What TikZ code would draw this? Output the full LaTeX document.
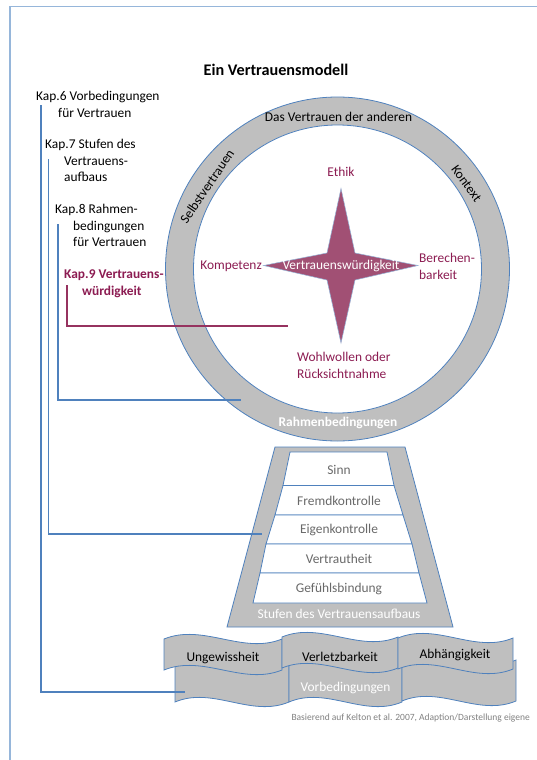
\documentclass[tikz,border=0pt]{standalone}
\usepackage{fontspec}
\setmainfont{Carlito}
\definecolor{ringgray}{RGB}{191,191,191}
\definecolor{bordblue}{RGB}{79,129,189}
\definecolor{framblue}{RGB}{150,182,218}
\definecolor{plum}{RGB}{140,28,82}
\definecolor{plumline}{RGB}{150,50,95}
\definecolor{starfill}{RGB}{161,80,116}
\definecolor{steptext}{RGB}{105,105,105}
\definecolor{captgray}{RGB}{128,128,128}
\tikzset{
  txt/.style={font=\fontsize{13.4}{16}\selectfont, inner sep=0pt},
  ptxt/.style={txt, text=plum},
  shapeline/.style={draw=bordblue, line width=0.8pt},
  grayshape/.style={shapeline, fill=ringgray},
  stepbox/.style={shapeline, fill=white},
  conn/.style={draw=bordblue, line width=1.3pt},
  pconn/.style={draw=plumline, line width=1.3pt},
}
\newcommand\wavebox[4]{%
  \pgfmathsetmacro\wvA{#1+(#2-#1)/3}%
  \pgfmathsetmacro\wvB{#1+2*(#2-#1)/3}%
  \path[grayshape] (#1,#3) .. controls (\wvA,#3-16) and (\wvB,#3+16) .. (#2,#3)
    -- (#2,#4) .. controls (\wvB,#4+16) and (\wvA,#4-16) .. (#1,#4) -- cycle;%
}
\begin{document}
\begin{tikzpicture}[x=1pt,y=-1pt]
\useasboundingbox (0,0) rectangle (537,760);
% frame
\draw[framblue, line width=1.5pt] (10,760) -- (10,6.5) -- (537,6.5);
% title
\node[font=\fontsize{16.2}{19}\selectfont\bfseries, inner sep=0pt] (title) at (276,70) {Ein Vertrauensmodell};

% ring
\coordinate (C) at (337.5,269);
\fill[ringgray, even odd rule] (C) circle[radius=172pt] (C) circle[radius=144pt];
\draw[shapeline] (C) circle[radius=172pt];
\draw[shapeline, fill=white] (C) circle[radius=144pt];
\node[txt, anchor=base] (anderen) at (338.5,121.5) {Das Vertrauen der anderen};
\node[txt, rotate=56] (selbst) at (207,186.5) {Selbstvertrauen};
\node[txt, rotate=-54] (kontext) at (466.5,183.5) {Kontext};
\node[txt, anchor=base, text=white, font=\fontsize{13.4}{16}\selectfont\bfseries] (rahmen) at (338,426.5) {Rahmenbedingungen};

% star
\path[fill=starfill, draw=bordblue!60, line width=0.5pt]
  (341,188.5) -- (355,253) -- (418,265.5) -- (355,280) -- (341,343) -- (327,280) -- (263.5,265.5) -- (327,253) -- cycle;
\node[txt, text=white] (vw) at (341,265.5) {Vertrauenswürdigkeit};
\node[ptxt, anchor=base] (ethik) at (341,176.5) {Ethik};
\node[ptxt, anchor=base east] (kompetenz) at (262,269.5) {Kompetenz};
\node[ptxt, anchor=base west] (berechen1) at (419,262.5) {Berechen-};
\node[ptxt, anchor=base west] (berechen2) at (419,279.5) {barkeit};
\node[ptxt, anchor=base west] (wohl1) at (297,361.5) {Wohlwollen oder};
\node[ptxt, anchor=base west] (wohl2) at (297,378) {Rücksichtnahme};

% trapezoid
\path[grayshape] (275,447) -- (405,447) -- (453,627) -- (227,627) -- cycle;
\path[stepbox] (290,452) -- (387,452) -- (394,485.5) -- (283,485.5) -- cycle;
\path[stepbox] (283,485.5) -- (394,485.5) -- (403,515) -- (275,515) -- cycle;
\path[stepbox] (275,515) -- (403,515) -- (412,544) -- (266,544) -- cycle;
\path[stepbox] (266,544) -- (412,544) -- (419,573) -- (260,573) -- cycle;
\path[stepbox] (260,573) -- (419,573) -- (427,603) -- (253,603) -- cycle;
\node[txt, text=steptext] (sinn) at (339,469.5) {Sinn};
\node[txt, text=steptext] (fremd) at (339,501) {Fremdkontrolle};
\node[txt, text=steptext] (eigen) at (339,530) {Eigenkontrolle};
\node[txt, text=steptext] (vertraut) at (339,559) {Vertrautheit};
\node[txt, text=steptext] (gefuehl) at (339,588.5) {Gefühlsbindung};
\node[txt, anchor=base, text=white] (stufen) at (339,618.5) {Stufen des Vertrauensaufbaus};

% banners (bottom row first)
\wavebox{175}{289}{660}{702}
\wavebox{289}{402}{660}{702}
\wavebox{402}{516}{660}{701}
\wavebox{164}{282}{639}{670}
\wavebox{282}{398}{637}{668}
\wavebox{398}{513}{638}{669}
\node[txt] (ungew) at (223,658) {Ungewissheit};
\node[txt] (verletz) at (340,657) {Verletzbarkeit};
\node[txt] (abh) at (455,655) {Abhängigkeit};
\node[txt, text=white] (vorbed) at (345.5,688) {Vorbedingungen};
\node[font=\fontsize{9.5}{11}\selectfont, text=captgray, inner sep=0pt, anchor=base east] (capt) at (530,720.5) {Basierend auf Kelton et al. 2007, Adaption/Darstellung eigene};

% left labels
\node[txt, anchor=base west] (k6a) at (36,100) {Kap.6 Vorbedingungen};
\node[txt, anchor=base west] (k6b) at (58,117) {für Vertrauen};
\node[txt, anchor=base west] (k7a) at (45,148.5) {Kap.7 Stufen des};
\node[txt, anchor=base west] (k7b) at (64,165) {Vertrauens-};
\node[txt, anchor=base west] (k7c) at (64,181.5) {aufbaus};
\node[txt, anchor=base west] (k8a) at (55,213.5) {Kap.8 Rahmen-};
\node[txt, anchor=base west] (k8b) at (73,230) {bedingungen};
\node[txt, anchor=base west] (k8c) at (73,246.5) {für Vertrauen};
\node[ptxt, anchor=base west, font=\fontsize{13.4}{16}\selectfont\bfseries] (k9a) at (64,278.5) {Kap.9 Vertrauens-};
\node[ptxt, anchor=base west, font=\fontsize{13.4}{16}\selectfont\bfseries] (k9b) at (82,295) {würdigkeit};

% connectors
\coordinate (k6s) at (41,105);   \coordinate (k6e) at (185,692);
\coordinate (k7s) at (48.5,159); \coordinate (k7e) at (262,534);
\coordinate (k8s) at (58,224);   \coordinate (k8e) at (241,400);
\coordinate (k9s) at (67,285);   \coordinate (k9e) at (288,326);
\draw[conn] (k6s) |- (k6e);
\draw[conn] (k7s) |- (k7e);
\draw[conn] (k8s) |- (k8e);
\draw[pconn] (k9s) |- (k9e);
\end{tikzpicture}
\end{document}
